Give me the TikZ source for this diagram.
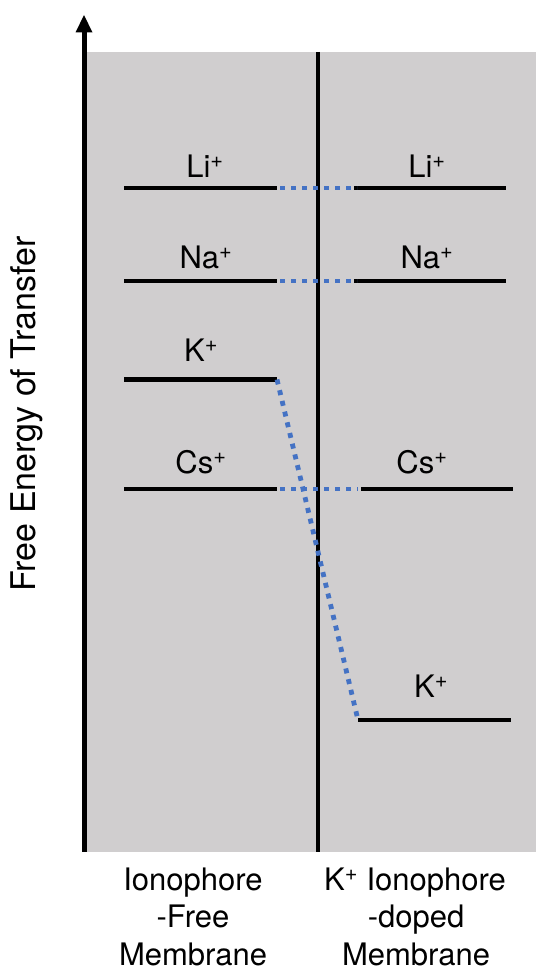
\documentclass[tikz,border=0pt]{standalone}
\usepackage{fontspec}
\setmainfont{TeX Gyre Heros}
\definecolor{panel}{RGB}{208,206,207}
\definecolor{dotblue}{RGB}{68,114,196}
\begin{document}
\begin{tikzpicture}[x=1pt,y=-1pt,
  level/.style={line width=4.6pt,black},
  link/.style={line width=4.8pt,dotblue,dash pattern=on 5pt off 6pt},
  lab/.style={anchor=base,inner sep=0pt,font=\fontsize{31}{37}\selectfont},
  axisline/.style={line width=5pt,black}]
\useasboundingbox (0,0) rectangle (536,971);
% panel
\fill[panel] (84,52) rectangle (536,851.5);
% axis
\coordinate (ax0) at (84,851.5);
\coordinate (ax1) at (84,30);
\draw[axisline] (ax0) -- (ax1);
\fill[black] (75.5,32.5) -- (84,15) -- (92.5,32.5) -- cycle;
% membrane interface
\coordinate (m0) at (318,52);
\coordinate (m1) at (318,852);
\draw[line width=4.6pt] (m0) -- (m1);
% levels
\coordinate (LiL1) at (124,188); \coordinate (LiL2) at (277,188);
\coordinate (LiR1) at (354,188); \coordinate (LiR2) at (506,188);
\coordinate (NaL1) at (124,281); \coordinate (NaL2) at (277,281);
\coordinate (NaR1) at (354,281); \coordinate (NaR2) at (506,281);
\coordinate (KL1) at (124,379.5); \coordinate (KL2) at (277,379.5);
\coordinate (CsL1) at (124,489); \coordinate (CsL2) at (277,489);
\coordinate (CsR1) at (361,489); \coordinate (CsR2) at (513,489);
\coordinate (KR1) at (358,720); \coordinate (KR2) at (511,720);
\foreach \a/\b in {LiL1/LiL2,LiR1/LiR2,NaL1/NaL2,NaR1/NaR2,KL1/KL2,CsL1/CsL2,CsR1/CsR2,KR1/KR2}
  \draw[level] (\a) -- (\b);
% dotted links
\coordinate (LiD1) at (280,188); \coordinate (LiD2) at (357,188);
\coordinate (NaD1) at (280,281); \coordinate (NaD2) at (357,281);
\coordinate (CsD1) at (280,489); \coordinate (CsD2) at (358,489);
\draw[link] (LiD1) -- (LiD2);
\draw[link] (NaD1) -- (NaD2);
\draw[link] (CsD1) -- (CsD2);
\draw[link] (KL2) -- (KR1);
% labels
\node[lab] (tLiL) at (205,177) {Li\textsuperscript{+}};
\node[lab] (tLiR) at (427,177) {Li\textsuperscript{+}};
\node[lab] (tNaL) at (206,268) {Na\textsuperscript{+}};
\node[lab] (tNaR) at (427,268) {Na\textsuperscript{+}};
\node[lab] (tKL) at (201,361) {K\textsuperscript{+}};
\node[lab] (tCsL) at (201,473) {Cs\textsuperscript{+}};
\node[lab] (tCsR) at (422,473) {Cs\textsuperscript{+}};
\node[lab] (tKR) at (431,697) {K\textsuperscript{+}};
% axis label
\node[lab,rotate=90,font=\fontsize{34}{40}\selectfont] (ylab) at (35,414) {Free Energy of Transfer};
% bottom labels
\node[lab] (lf1) at (193,890) {Ionophore};
\node[lab] (lf2) at (193,927) {-Free};
\node[lab] (lf3) at (193,965) {Membrane};
\node[lab] (rt1) at (415,890) {K\textsuperscript{+} Ionophore};
\node[lab] (rt2) at (416,927) {-doped};
\node[lab] (rt3) at (416,965) {Membrane};
\end{tikzpicture}
\end{document}
